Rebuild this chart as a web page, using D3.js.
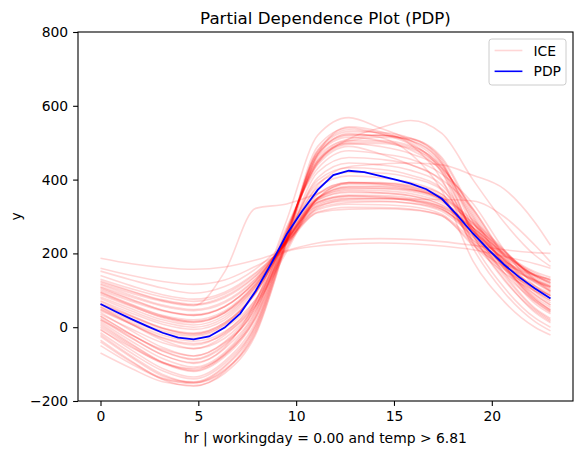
<!DOCTYPE html>
<html><head><meta charset="utf-8">
<script src="https://cdn.jsdelivr.net/npm/d3@7"></script>
<style>body{margin:0;background:#fff} svg{display:block} text{font-family:"DejaVu Sans",sans-serif}</style>
</head><body><svg id="c" width="583" height="455"></svg>
<script>
// PDP grid (30 points over hour 0..23)
const gridHours = [0,0.793,1.586,2.379,3.172,3.966,4.759,5.552,6.345,7.138,7.931,8.724,9.517,10.310,11.103,11.897,12.690,13.483,14.276,15.069,15.862,16.655,17.448,18.241,19.034,19.828,20.621,21.414,22.207,23];
const pdpValues = [63,42,22,3,-15,-28,-33,-25,-1,37,98,172,252,315,372,412,424,420,410,400,389,374,348,303,254,210,170,135,105,78];
// ICE curves read at every other grid point
const iceHours = [0,1.586,3.172,4.759,6.345,7.931,9.517,11.103,12.690,14.276,15.862,17.448,19.034,20.621,22.207,23];
const iceCurves = [
 [152,128,106,92,110,158,232,312,325,324,320,302,228,172,140,130],
 [130,104,82,70,90,145,228,318,333,332,327,306,236,178,142,128],
 [122,96,72,60,80,138,232,328,342,342,336,314,250,188,142,125],
 [110,82,57,45,66,130,235,334,350,350,342,320,262,196,140,120],
 [100,70,44,32,55,124,236,340,358,357,350,326,270,200,138,116],
 [88,56,28,15,40,115,236,345,365,364,356,332,278,205,134,110],
 [78,44,14,0,26,108,238,350,372,370,362,338,284,208,130,104],
 [65,30,-2,-16,12,95,234,352,378,376,368,342,262,185,122,98],
 [55,18,-15,-30,-2,75,220,350,382,382,374,346,246,168,112,92],
 [45,8,-28,-44,-18,62,212,350,388,386,378,350,238,160,106,88],
 [140,112,88,76,95,148,225,310,320,321,318,302,222,165,128,112],
 [96,62,32,20,44,118,230,338,355,352,344,320,256,184,128,110],
 [72,38,8,-6,20,102,232,345,368,364,356,330,272,196,126,100],
 [60,22,-10,-24,6,95,240,362,392,390,380,352,290,210,128,97],
 [115,86,60,48,70,132,228,325,346,348,344,326,268,200,150,135],
 [82,50,20,6,32,110,236,348,375,376,372,350,280,206,140,120],
 [35,-5,-42,-58,-30,58,205,350,390,390,382,354,226,148,98,80],
 [104,74,46,34,56,125,234,338,356,354,346,324,244,176,124,108],
 [50,12,-22,-38,-12,68,215,348,380,380,372,346,232,156,104,86],
 [125,98,74,62,84,140,230,322,338,340,336,318,258,194,146,128],
 [70,32,-2,-18,12,92,245,390,420,418,405,372,270,175,110,85],
 [48,8,-30,-48,-15,75,240,398,432,428,412,375,262,165,98,72],
 [92,58,26,12,38,112,242,378,410,405,392,360,270,182,120,96],
 [20,-22,-60,-78,-42,48,236,405,445,440,425,385,268,160,88,60],
 [108,76,46,32,56,126,240,360,392,392,385,360,282,200,140,122],
 [-8,-55,-96,-112,-75,25,232,420,460,455,440,395,262,148,70,40],
 [40,-10,-55,-78,-40,60,265,440,490,470,440,400,320,196,100,72],
 [25,-28,-75,-98,-58,45,258,452,500,502,488,432,318,186,88,60],
 [10,-45,-95,-118,-75,30,250,462,510,520,512,455,305,172,76,48],
 [-5,-62,-112,-135,-92,15,245,470,520,520,505,445,285,160,64,36],
 [-20,-78,-128,-150,-108,0,240,478,530,528,512,450,270,146,52,24],
 [-35,-92,-142,-160,-120,-10,236,490,540,525,495,430,250,132,40,12],
 [-70,-112,-148,-158,-125,-20,228,470,543,530,495,400,215,95,15,-10],
 [-50,-100,-140,-152,-118,-5,232,465,525,515,470,370,180,70,0,-21],
 [55,8,-35,-58,-22,70,272,430,478,470,455,415,335,210,112,85],
 [0,-52,-98,-120,-80,25,250,455,505,506,492,436,295,168,70,42],
 [-15,-70,-118,-140,-98,8,244,468,515,505,480,420,258,140,48,20],
 [30,-20,-65,-88,-50,55,262,445,496,498,484,430,322,192,95,66],
 [-40,-95,-138,-150,-115,-15,230,480,535,525,500,420,230,108,25,0],
 [15,-38,-85,-108,-68,40,255,450,505,515,510,460,312,180,82,54],
 [-25,-82,-132,-148,-105,5,238,474,522,520,506,444,250,128,44,16],
 [5,-48,-95,-115,-72,35,254,448,498,490,470,425,288,166,74,46],
 [187,172,162,157,163,182,208,228,238,240,238,232,222,210,202,200],
 [160,140,124,116,128,165,205,220,226,228,226,220,210,192,172,160],
 [118,92,70,58,150,322,334,362,392,388,375,345,262,182,126,108],
 [20,-30,-75,-96,-55,70,290,520,568,540,505,440,300,170,78,45],
 [30,-20,-64,-86,-46,55,262,445,510,540,560,525,400,285,195,165],
 [62,28,-4,-20,8,92,245,385,435,442,445,440,412,375,284,222],
 [95,60,30,15,40,118,238,330,348,348,347,346,342,300,222,177]
];
const xTicks = [0,5,10,15,20];
const yTicks = [-200,0,200,400,600,800];
const legendLabels = ["ICE","PDP"];

const svg = d3.select("#c");
const L=78, R=573, T=32, B=401;
const x = d3.scaleLinear().domain([-1.15,24.15]).range([L,R]);
const y = d3.scaleLinear().domain([-200,800]).range([B,T]);
const fs = 13.9;

svg.append("defs").append("clipPath").attr("id","clip")
  .append("rect").attr("x",L).attr("y",T).attr("width",R-L).attr("height",B-T);

const plot = svg.append("g").attr("clip-path","url(#clip)");
const iceLine = d3.line().x((d,i)=>x(iceHours[i])).y(d=>y(d)).curve(d3.curveMonotoneX);
plot.selectAll("path.ice").data(iceCurves).join("path").attr("class","ice")
  .attr("d",iceLine).attr("fill","none").attr("stroke","red")
  .attr("stroke-opacity",0.16).attr("stroke-width",1.6);
const pdpLine = d3.line().x((d,i)=>x(gridHours[i])).y(d=>y(d));
plot.append("path").datum(pdpValues).attr("d",pdpLine).attr("fill","none")
  .attr("stroke","#0000ff").attr("stroke-width",1.8);

const fmt = d => d<0 ? "\u2212"+Math.abs(d) : String(d);
const gx = svg.append("g").attr("transform",`translate(0,${B})`)
  .call(d3.axisBottom(x).tickValues(xTicks).tickSize(4.9).tickPadding(4.9).tickSizeOuter(0).tickFormat(fmt));
const gy = svg.append("g").attr("transform",`translate(${L},0)`)
  .call(d3.axisLeft(y).tickValues(yTicks).tickSize(4.9).tickPadding(4.9).tickSizeOuter(0).tickFormat(fmt));
[gx,gy].forEach(g=>{
  g.select(".domain").remove();
  g.selectAll(".tick line").attr("stroke","#000").attr("stroke-width",1.1);
  g.selectAll(".tick text").attr("fill","#000").style("font-size",fs+"px").style("font-family","DejaVu Sans");
});

svg.append("rect").attr("x",L).attr("y",T).attr("width",R-L).attr("height",B-T)
  .attr("fill","none").attr("stroke","#000").attr("stroke-width",1.1);

svg.append("text").attr("x",(L+R)/2).attr("y",24).attr("text-anchor","middle")
  .style("font-size","16.67px").text("Partial Dependence Plot (PDP)");
svg.append("text").attr("x",(L+R)/2).attr("y",443).attr("text-anchor","middle")
  .style("font-size",fs+"px").text("hr | workingday = 0.00 and temp > 6.81");
svg.append("text").attr("transform",`translate(21,${(T+B)/2}) rotate(-90)`).attr("text-anchor","middle")
  .style("font-size",fs+"px").text("y");

const lg = svg.append("g");
lg.append("rect").attr("x",489).attr("y",39).attr("width",77).attr("height",46).attr("rx",2.8)
  .attr("fill","#fff").attr("fill-opacity",0.8).attr("stroke","#cccccc").attr("stroke-width",1);
const legendStyles = [{c:"red",o:0.16},{c:"#0000ff",o:1}];
legendLabels.forEach((lab,i)=>{
  const cy = 50.5 + i*20.8;
  lg.append("line").attr("x1",494.6).attr("x2",522.4).attr("y1",cy).attr("y2",cy)
    .attr("stroke",legendStyles[i].c).attr("stroke-opacity",legendStyles[i].o).attr("stroke-width",1.6);
  lg.append("text").attr("x",533.5).attr("y",cy).attr("dy","0.36em").style("font-size",fs+"px").text(lab);
});
</script></body></html>
